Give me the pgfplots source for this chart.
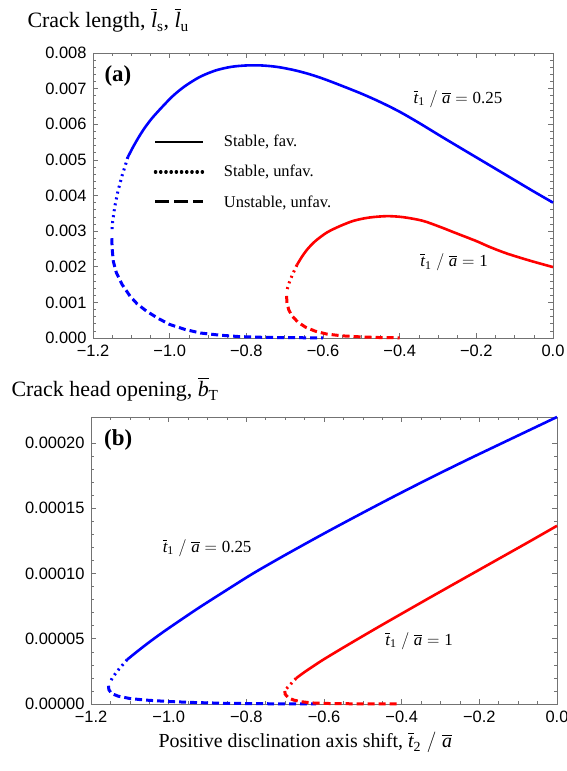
\documentclass[border=0pt]{standalone}
\usepackage{fontspec}
\setmainfont{Liberation Serif}
\newfontfamily\sansfont{Liberation Sans}
\usepackage{amsmath}
\usepackage{pgfplots}
\pgfplotsset{compat=1.18}

\definecolor{myblue}{RGB}{0,0,255}
\definecolor{myred}{RGB}{255,0,0}

\pgfplotsset{
  mystyle/.style={
    scale only axis, clip=false,
    xmin=-1.2, xmax=0,
    xtick={-1.2,-1.0,-0.8,-0.6,-0.4,-0.2,0},
    xticklabels={−1.2,−1.0,−0.8,−0.6,−0.4,−0.2,0.0},
    minor x tick num=3,
    minor y tick num=4,
    scaled ticks=false,
    axis line style={black!55, line width=0.9bp},
    every tick/.style={black!55, line width=0.6bp},
    major tick length=5bp, minor tick length=3bp,
    tick label style={font=\sansfont\fontsize{16.5}{18}\selectfont},
    xticklabel style={yshift=-4bp},
    yticklabel style={xshift=-3bp},
    /pgf/number format/assume math mode=true,
  },
  solidline/.style={line width=2.6bp, smooth, tension=0.5},
  dotline/.style={line width=3bp, dash pattern=on 2bp off 4bp},
  dashline/.style={line width=3bp, dash pattern=on 7bp off 4bp},
}

\newcommand{\annot}{\fontsize{17}{19}\selectfont}
\newcommand{\tone}[1]{$\overline{\textit{t}}_{\textrm{1}}\;/\;\overline{\textit{a}} = \mbox{#1}$}

\begin{document}
\begin{tikzpicture}[x=1bp,y=1bp]
\useasboundingbox (0,0) rectangle (567,771);

% ---------------- top panel ----------------
\begin{axis}[mystyle,
  at={(93bp,433bp)}, anchor=south west,
  width=460bp, height=285bp,
  ymin=0, ymax=0.008,
  ytick={0,0.001,0.002,0.003,0.004,0.005,0.006,0.007,0.008},
  yticklabels={0.000,0.001,0.002,0.003,0.004,0.005,0.006,0.007,0.008},
  legend style={at={(axis cs:-1.042,0.00575)}, anchor=north west, draw=none, fill=none,
    font=\fontsize{16.5}{18}\selectfont, row sep=13bp, inner sep=0pt,
    /tikz/every odd column/.append style={column sep=17bp}},
  legend cell align=left,
  legend image code/.code={\draw[#1] (0bp,0bp) -- (48bp,0bp);},
]
% blue solid
\addplot[myblue, solidline, forget plot] coordinates {
(-1.109,0.00508) (-1.095,0.00537) (-1.080,0.00565) (-1.065,0.00590) (-1.046,0.00617)
(-1.020,0.00648) (-0.991,0.00680) (-0.960,0.00707) (-0.921,0.00733) (-0.880,0.00751)
(-0.840,0.00761) (-0.800,0.00765) (-0.760,0.00765) (-0.720,0.00761) (-0.680,0.00753)
(-0.640,0.00742) (-0.600,0.00728) (-0.556,0.00710) (-0.500,0.00686) (-0.450,0.00662)
(-0.400,0.00635) (-0.350,0.00604) (-0.295,0.00568) (-0.250,0.00539) (-0.200,0.00507)
(-0.164,0.00484) (-0.100,0.00443) (-0.050,0.00411) (0.000,0.00380)};
% blue dotted
\addplot[myblue, dotline, forget plot] coordinates {
(-1.109,0.00508) (-1.124,0.00456) (-1.135,0.00412) (-1.143,0.00370) (-1.149,0.00325) (-1.151,0.00295)};
% blue dashed
\addplot[myblue, dashline, forget plot] coordinates {
(-1.151,0.00280) (-1.150,0.00250) (-1.147,0.00215) (-1.139,0.00183) (-1.124,0.00150)
(-1.103,0.00117) (-1.085,0.00096) (-1.060,0.00075) (-1.030,0.00055) (-1.000,0.00038)
(-0.960,0.00024) (-0.920,0.00014) (-0.870,0.00008) (-0.820,0.00004) (-0.760,0.00002)
(-0.700,0.00001) (-0.600,0.000003)};
% red solid
\addplot[myred, solidline, forget plot] coordinates {
(-0.668,0.00205) (-0.655,0.00228) (-0.640,0.00250) (-0.620,0.00272) (-0.590,0.00296)
(-0.556,0.00314) (-0.520,0.00329) (-0.480,0.00338) (-0.433,0.00342) (-0.390,0.00339)
(-0.340,0.00329) (-0.295,0.00312) (-0.250,0.00293) (-0.200,0.00272) (-0.164,0.00255)
(-0.120,0.00237) (-0.060,0.00217) (0.000,0.00199)};
% red dotted
\addplot[myred, dotline, forget plot] coordinates {
(-0.668,0.00205) (-0.678,0.00182) (-0.686,0.00162) (-0.692,0.00142) (-0.695,0.00128)};
% red dashed
\addplot[myred, dashline, forget plot] coordinates {
(-0.695,0.00118) (-0.694,0.00098) (-0.689,0.00078) (-0.680,0.00061) (-0.665,0.00044)
(-0.645,0.00030) (-0.620,0.00019) (-0.590,0.00011) (-0.550,0.00006) (-0.500,0.00003)
(-0.450,0.000012) (-0.400,0.000005)};

\addlegendimage{black, line width=2.6bp}
\addlegendentry{Stable, fav.}
\addlegendimage{black, line width=3.2bp, line cap=round, dash pattern=on 0.4bp off 4.8bp}
\addlegendentry{Stable, unfav.}
\addlegendimage{black, line width=3bp, dash pattern=on 14bp off 5bp}
\addlegendentry{Unstable, unfav.}

\node[font=\annot] at (axis cs:-0.248,0.00671) {\tone{0.25}};
\node[font=\annot] at (axis cs:-0.258,0.00213) {\tone{1}};
\node[font=\bfseries\fontsize{23}{25}\selectfont] at (axis cs:-1.135,0.00736) {(a)};
\end{axis}

% ---------------- bottom panel ----------------
\begin{axis}[mystyle,
  at={(91bp,67bp)}, anchor=south west,
  width=466bp, height=287bp,
  ymin=0, ymax=0.00022,
  ytick={0,0.00005,0.0001,0.00015,0.0002},
  yticklabels={0.00000,0.00005,0.00010,0.00015,0.00020},
]
\addplot[myblue, solidline] coordinates {
(-1.107,0.0000340) (-1.080,0.0000405) (-1.050,0.0000474) (-1.015,0.0000550) (-0.970,0.0000642)
(-0.922,0.0000738) (-0.860,0.0000856) (-0.783,0.0001000) (-0.700,0.0001142) (-0.598,0.0001310)
(-0.500,0.0001466) (-0.412,0.0001603) (-0.320,0.0001742) (-0.227,0.0001878) (-0.120,0.0002030)
(0.000,0.0002200)};
\addplot[myblue, dotline] coordinates {
(-1.107,0.0000340) (-1.120,0.0000295) (-1.133,0.0000250) (-1.145,0.0000200) (-1.152,0.0000160)};
\addplot[myblue, dashline] coordinates {
(-1.155,0.0000140) (-1.154,0.0000110) (-1.147,0.0000080) (-1.130,0.0000060) (-1.100,0.0000042)
(-1.060,0.0000030) (-1.000,0.0000019) (-0.930,0.0000011) (-0.850,0.0000005) (-0.750,0.0000002)
(-0.620,0.0)};
\addplot[myred, solidline] coordinates {
(-0.672,0.0000197) (-0.650,0.0000245) (-0.620,0.0000305) (-0.598,0.0000347) (-0.550,0.0000433)
(-0.505,0.0000512) (-0.460,0.0000590) (-0.412,0.0000672) (-0.320,0.0000828) (-0.227,0.0000984)
(-0.135,0.0001138) (-0.070,0.0001247) (0.000,0.0001366)};
\addplot[myred, dotline] coordinates {
(-0.672,0.0000197) (-0.683,0.0000162) (-0.692,0.0000132) (-0.699,0.0000110)};
\addplot[myred, dashline] coordinates {
(-0.701,0.0000100) (-0.700,0.0000075) (-0.692,0.0000048) (-0.678,0.0000030) (-0.660,0.0000018)
(-0.630,0.0000008) (-0.580,0.0000003) (-0.500,0.0000001) (-0.403,0.0)};

\node[font=\annot] at (axis cs:-0.901,0.0001196) {\tone{0.25}};
\node[font=\annot] at (axis cs:-0.355,0.0000483) {\tone{1}};
\node[font=\bfseries\fontsize{23}{25}\selectfont] at (axis cs:-1.130,0.000202) {(b)};
\end{axis}

% titles
\node[anchor=base west, font=\fontsize{22}{24}\selectfont] at (24,743)
  {Crack length, $\overline{\textit{l}}_{\textrm{s}}$, $\overline{\textit{l}}_{\textrm{u}}$};
\node[anchor=base west, font=\fontsize{22}{24}\selectfont] at (8,374)
  {Crack head opening, $\overline{\textit{b}}_{\textrm{T}}$};
\node[anchor=base west, font=\fontsize{20}{22}\selectfont] at (155,23)
  {Positive disclination axis shift, $\overline{\textit{t}}_{\textrm{2}}\;/\;\overline{\textit{a}}$};
\end{tikzpicture}
\end{document}
